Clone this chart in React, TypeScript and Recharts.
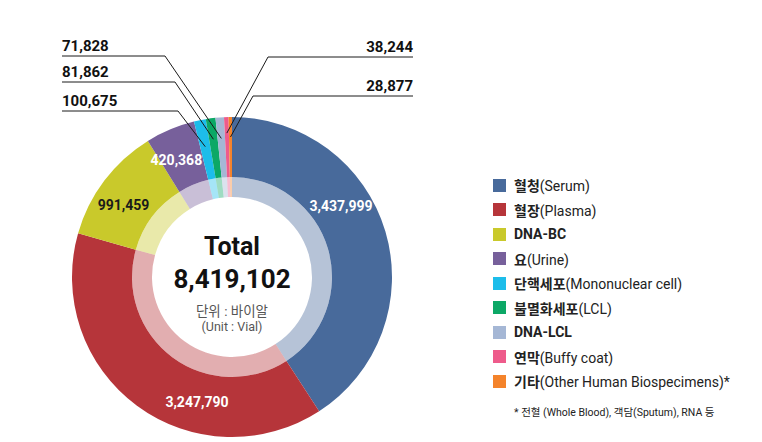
import { Customized, Legend, Pie, PieChart, Cell } from 'recharts';

const categories = ['Serum', 'Plasma', 'DNA-BC', 'Urine', 'Mononuclear cell', 'LCL', 'DNA-LCL', 'Buffy coat', 'Other'];
const koreanNames = ['혈청', '혈장', 'DNA-BC', '요', '단핵세포', '불멸화세포', 'DNA-LCL', '연막', '기타'];
const englishNames = ['(Serum)', '(Plasma)', '', '(Urine)', '(Mononuclear cell)', '(LCL)', '', '(Buffy coat)', '(Other Human Biospecimens)*'];
const vials = [3437999, 3247790, 991459, 420368, 100675, 81862, 71828, 38244, 28877];
const colors = ['#486a9b', '#b6353a', '#c9c92b', '#77609b', '#1dbdea', '#0ca866', '#a5b7d5', '#ee5b8b', '#f4832b'];

const FONT = "Roboto, 'Noto Sans CJK KR', sans-serif";
const RAD = Math.PI / 180;
const CX = 232;
const CY = 277;

// small slices get a leader line to a label above the ring
const LEADERS: Record<string, { r: number; elbowX: number; y: number; endX: number }> = {
  'Mononuclear cell': { r: 133, elbowX: 178, y: 111, endX: 62 },
  LCL: { r: 139, elbowX: 175, y: 82, endX: 62 },
  'DNA-LCL': { r: 139, elbowX: 165, y: 56, endX: 62 },
  'Buffy coat': { r: 144, elbowX: 268, y: 57, endX: 413 },
  Other: { r: 140, elbowX: 253, y: 96, endX: 413 },
};

// nudge for in-ring labels (degrees)
const LABEL_SHIFT: Record<string, number> = { Serum: 16.5, Plasma: 20.8, 'DNA-BC': 3.6, Urine: 2.6 };

const data = categories.map((name, i) => ({ name, value: vials[i] }));
const fmt = (v: number) => v.toLocaleString('en-US');

function renderOuterLabel(props: any) {
  const { cx, cy, midAngle, index } = props;
  const name = categories[index];
  const text = fmt(vials[index]);
  const leader = LEADERS[name];
  if (leader) {
    const a = -midAngle * RAD;
    const x0 = cx + leader.r * Math.cos(a);
    const y0 = cy + leader.r * Math.sin(a);
    const left = leader.endX < leader.elbowX;
    return (
      <g key={name}>
        <polyline
          points={`${x0},${y0} ${leader.elbowX},${leader.y} ${leader.endX},${leader.y}`}
          fill="none"
          stroke="#1a1a1a"
          strokeWidth={1}
        />
        <text
          x={leader.endX}
          y={leader.y - 5}
          textAnchor={left ? 'start' : 'end'}
          fontFamily={FONT}
          fontWeight={700}
          fontSize={15}
          fill="#111"
        >
          {text}
        </text>
      </g>
    );
  }
  const a = -(midAngle + (LABEL_SHIFT[name] ?? 0)) * RAD;
  const x = cx + 130 * Math.cos(a);
  const y = cy + 130 * Math.sin(a);
  return (
    <text
      key={name}
      x={x}
      y={y}
      textAnchor="middle"
      dominantBaseline="central"
      fontFamily={FONT}
      fontWeight={700}
      fontSize={14}
      fill={name === 'DNA-BC' ? '#1a1a1a' : '#fff'}
    >
      {text}
    </text>
  );
}

function CenterText() {
  const total = vials.reduce((s, v) => s + v, 0);
  return (
    <g fontFamily={FONT} textAnchor="middle">
      <text x={CX} y={CY - 22} fontSize={25} fontWeight={700} fill="#111">
        Total
      </text>
      <text x={CX} y={CY + 11} fontSize={26} fontWeight={700} fill="#111">
        {fmt(total)}
      </text>
      <text x={CX} y={CY + 39} fontSize={13.5} fill="#555">
        단위 : 바이알
      </text>
      <text x={CX} y={CY + 54} fontSize={12.5} fill="#555">
        (Unit : Vial)
      </text>
    </g>
  );
}

function renderLegend() {
  return (
    <div style={{ fontFamily: FONT, color: '#222' }}>
      {categories.map((c, i) => (
        <div key={c} style={{ display: 'flex', alignItems: 'center', height: 24.5 }}>
          <span style={{ width: 13, height: 13, background: colors[i], marginRight: 8, flexShrink: 0 }} />
          <span style={{ fontSize: 14, whiteSpace: 'nowrap' }}>
            <b>{koreanNames[i]}</b>
            {englishNames[i]}
          </span>
        </div>
      ))}
      <div style={{ fontSize: 10.5, marginTop: 10, paddingLeft: 21, whiteSpace: 'nowrap' }}>
        * 전혈 (Whole Blood), 객담(Sputum), RNA 등
      </div>
    </div>
  );
}

export default function App() {
  return (
    <div style={{ position: 'absolute', left: 0, top: 0, width: 762, height: 442, background: '#fff' }}>
      <PieChart width={762} height={442} margin={{ top: 0, right: 0, bottom: 0, left: 0 }}>
        <Pie
          data={data}
          dataKey="value"
          nameKey="name"
          cx={CX}
          cy={CY}
          innerRadius={100}
          outerRadius={160}
          startAngle={90}
          endAngle={-270}
          stroke="none"
          label={renderOuterLabel}
          labelLine={false}
          isAnimationActive={false}
        >
          {data.map((d, i) => (
            <Cell key={d.name} fill={colors[i]} />
          ))}
        </Pie>
        <Pie
          data={data}
          dataKey="value"
          nameKey="name"
          cx={CX}
          cy={CY}
          innerRadius={80}
          outerRadius={100}
          startAngle={90}
          endAngle={-270}
          stroke="none"
          fillOpacity={0.4}
          isAnimationActive={false}
        >
          {data.map((d, i) => (
            <Cell key={d.name} fill={colors[i]} />
          ))}
        </Pie>
        <Customized component={CenterText} />
        <Legend
          layout="vertical"
          align="right"
          verticalAlign="middle"
          content={renderLegend}
          wrapperStyle={{ left: 493, top: 173, width: 269 }}
        />
      </PieChart>
    </div>
  );
}
